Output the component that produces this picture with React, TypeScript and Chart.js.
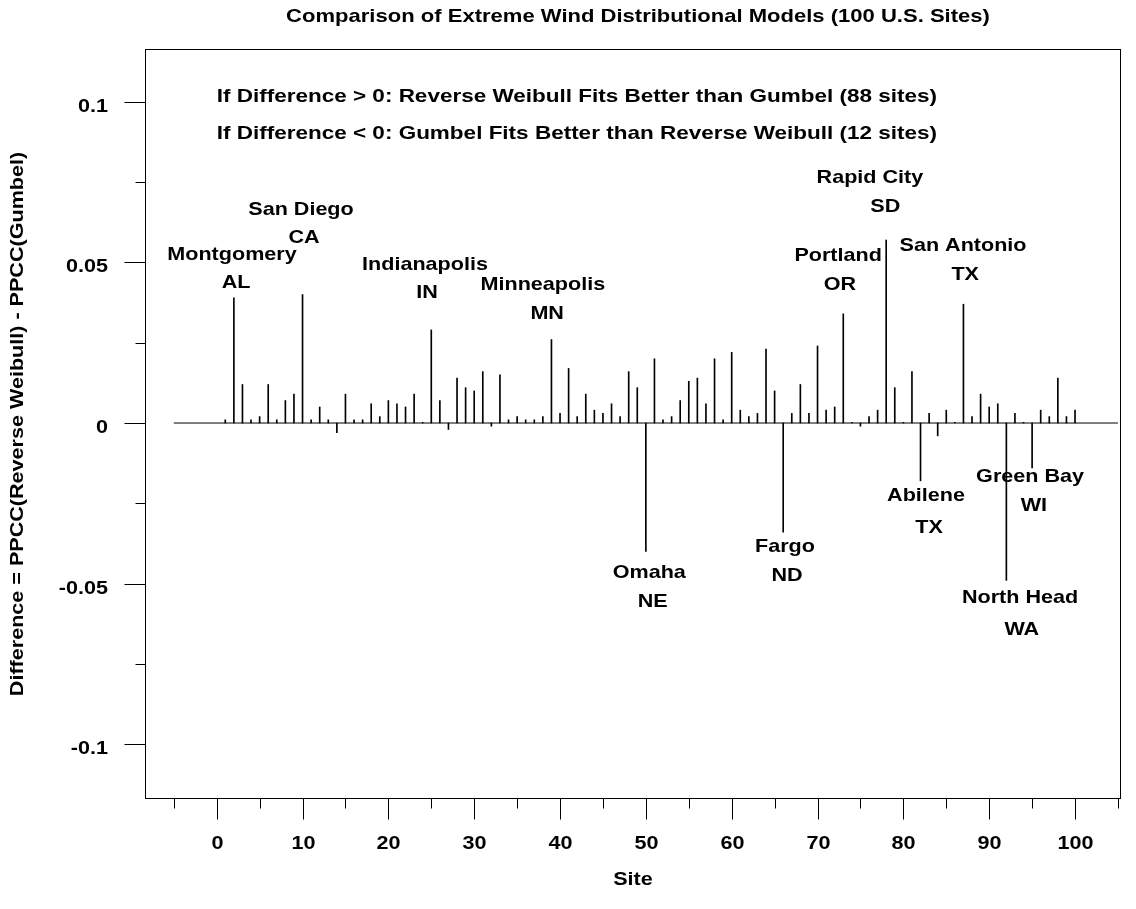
import React, { useEffect, useRef } from 'react';
import { Chart, registerables } from 'chart.js';

Chart.register(...registerables);

// PPCC(Reverse Weibull) - PPCC(Gumbel) for sites 1..100
const ppccDifference = [
  0.001, 0.039, 0.012, 0.001, 0.002, 0.012, 0.001, 0.007, 0.009, 0.040,
  0.001, 0.005, 0.001, -0.003, 0.009, 0.001, 0.001, 0.006, 0.002, 0.007,
  0.006, 0.005, 0.009, 0.0002, 0.029, 0.007, -0.002, 0.014, 0.011, 0.010,
  0.016, -0.001, 0.015, 0.001, 0.002, 0.001, 0.001, 0.002, 0.026, 0.003,
  0.017, 0.002, 0.009, 0.004, 0.003, 0.006, 0.002, 0.016, 0.011, -0.040,
  0.020, 0.001, 0.002, 0.007, 0.013, 0.014, 0.006, 0.020, 0.001, 0.022,
  0.004, 0.002, 0.003, 0.023, 0.010, -0.034, 0.003, 0.012, 0.003, 0.024,
  0.004, 0.005, 0.034, 0.0002, -0.001, 0.002, 0.004, 0.057, 0.011, 0.0002,
  0.016, -0.018, 0.003, -0.004, 0.004, 0.0002, 0.037, 0.002, 0.009, 0.005,
  0.006, -0.049, 0.003, 0.0002, -0.014, 0.004, 0.002, 0.014, 0.002, 0.004,
];

// reference line at zero difference
const zeroLineX = [-5, 105];

// axis ticks
const xTickValues = [-5, 0, 5, 10, 15, 20, 25, 30, 35, 40, 45, 50, 55, 60, 65, 70, 75, 80, 85, 90, 95, 100, 105];
const xTickLabels = ['', '0', '', '10', '', '20', '', '30', '', '40', '', '50', '', '60', '', '70', '', '80', '', '90', '', '100', ''];
const yTickValues = [-0.1, -0.075, -0.05, -0.025, 0, 0.025, 0.05, 0.075, 0.1];
const yTickLabels = ['-0.1', '', '-0.05', '', '0', '', '0.05', '', '0.1'];

// annotated sites
const cityNames = ['Montgomery', 'San Diego', 'Indianapolis', 'Minneapolis', 'Omaha', 'Fargo', 'Portland', 'Rapid City', 'San Antonio', 'Abilene', 'Green Bay', 'North Head'];
const cityStates = ['AL', 'CA', 'IN', 'MN', 'NE', 'ND', 'OR', 'SD', 'TX', 'TX', 'WI', 'WA'];
const cityNameX = [1.78, 9.82, 24.27, 38.0, 50.4, 66.2, 72.4, 76.1, 86.95, 82.64, 94.76, 93.6];
const cityNameY = [0.0523, 0.0663, 0.0492, 0.043, -0.0468, -0.0387, 0.052, 0.0763, 0.0551, -0.0228, -0.0168, -0.0545];
const cityStateX = [2.25, 10.17, 24.5, 38.5, 50.8, 66.44, 72.6, 77.9, 87.2, 82.99, 95.2, 93.8];
const cityStateY = [0.0436, 0.0576, 0.0405, 0.0339, -0.0558, -0.0477, 0.043, 0.0672, 0.0461, -0.0327, -0.0259, -0.0645];

const notes = [
  'If Difference > 0: Reverse Weibull Fits Better than Gumbel (88 sites)',
  'If Difference < 0: Gumbel Fits Better than Reverse Weibull (12 sites)',
];
const noteX = [0, 0];
const noteY = [0.1015, 0.09];

const chartTitle = 'Comparison of Extreme Wind Distributional Models (100 U.S. Sites)';
const xTitle = 'Site';
const yTitle = 'Difference = PPCC(Reverse Weibull) - PPCC(Gumbel)';

const FONT = 'bold 18.6px "Liberation Sans", Arial, sans-serif';
const STRETCH = 1.16;
const NOTE_STRETCH = 1.21;
const TITLE_STRETCH = 1.185;

function drawText(
  ctx: CanvasRenderingContext2D,
  text: string,
  x: number,
  y: number,
  align: CanvasTextAlign,
  rotate = false,
  stretch = STRETCH,
) {
  ctx.save();
  ctx.translate(x, y);
  if (rotate) ctx.rotate(-Math.PI / 2);
  ctx.scale(stretch, 1);
  ctx.font = FONT;
  ctx.fillStyle = '#000';
  ctx.textAlign = align;
  ctx.textBaseline = 'middle';
  ctx.fillText(text, 0, 0);
  ctx.restore();
}

const decorPlugin = {
  id: 'decor',
  afterDraw(chart: any) {
    const { ctx, chartArea } = chart;
    const xs = chart.scales.x;
    const ys = chart.scales.y;
    const L = Math.round(chartArea.left) + 0.5;
    const R = Math.round(chartArea.right) + 0.5;
    const T = Math.round(chartArea.top) + 0.5;
    const B = Math.round(chartArea.bottom) + 0.5;
    ctx.save();
    ctx.strokeStyle = '#000';
    ctx.lineWidth = 1;
    ctx.strokeRect(L, T, R - L, B - T);

    // x ticks and labels
    xTickValues.forEach((v, i) => {
      const px = Math.round(xs.getPixelForValue(v)) + 0.5;
      const len = xTickLabels[i] ? 21 : 10;
      ctx.beginPath();
      ctx.moveTo(px, B);
      ctx.lineTo(px, B + len);
      ctx.stroke();
      if (xTickLabels[i]) drawText(ctx, xTickLabels[i], px, B + 45, 'center');
    });
    // y ticks and labels
    yTickValues.forEach((v, i) => {
      const py = Math.round(ys.getPixelForValue(v)) + 0.5;
      const len = yTickLabels[i] ? 21 : 10;
      ctx.beginPath();
      ctx.moveTo(L, py);
      ctx.lineTo(L - len, py);
      ctx.stroke();
      if (yTickLabels[i]) drawText(ctx, yTickLabels[i], 108, py + 4.5, 'right');
    });

    // titles
    drawText(ctx, chartTitle, (L + R) / 2 + 5, 17, 'center', false, TITLE_STRETCH);
    drawText(ctx, xTitle, (L + R) / 2, 880, 'center');
    drawText(ctx, yTitle, 18, (T + B) / 2, 'center', true);

    // notes
    notes.forEach((t, i) =>
      drawText(ctx, t, xs.getPixelForValue(noteX[i]), ys.getPixelForValue(noteY[i]), 'left', false, NOTE_STRETCH),
    );

    // site annotations
    cityNames.forEach((name, i) => {
      drawText(ctx, name, xs.getPixelForValue(cityNameX[i]), ys.getPixelForValue(cityNameY[i]), 'center');
      drawText(ctx, cityStates[i], xs.getPixelForValue(cityStateX[i]), ys.getPixelForValue(cityStateY[i]), 'center');
    });
    ctx.restore();
  },
};

export default function App() {
  const canvasRef = useRef<HTMLCanvasElement | null>(null);

  useEffect(() => {
    const canvas = canvasRef.current;
    if (!canvas) return;
    const chart = new Chart(canvas, {
      type: 'bar',
      data: {
        datasets: [
          {
            type: 'bar',
            data: ppccDifference.map((v, i) => ({ x: i + 1, y: v })),
            backgroundColor: '#000',
            borderWidth: 0,
            barThickness: 1,
          } as any,
          {
            type: 'line',
            data: zeroLineX.map((x) => ({ x, y: 0 })),
            borderColor: '#000',
            borderWidth: 1,
            pointRadius: 0,
          } as any,
        ],
      },
      options: {
        responsive: false,
        animation: false,
        devicePixelRatio: 1,
        layout: { padding: { left: 0, top: 49, right: 16, bottom: 0 } },
        plugins: {
          legend: { display: false },
          tooltip: { enabled: false },
          title: { display: false },
        },
        scales: {
          x: {
            type: 'linear',
            min: -8.354,
            max: 105.24,
            offset: false,
            grid: { display: false },
            border: { display: false },
            ticks: { display: false },
            afterFit: (s: any) => { s.height = 111; },
          },
          y: {
            type: 'linear',
            min: -0.1168,
            max: 0.1165,
            grid: { display: false },
            border: { display: false },
            ticks: { display: false },
            afterFit: (s: any) => { s.width = 145; },
          },
        },
      } as any,
      plugins: [decorPlugin],
    });
    return () => chart.destroy();
  }, []);

  return (
    <div style={{ position: 'absolute', left: 0, top: 0, width: 1136, height: 909, background: '#fff' }}>
      <canvas ref={canvasRef} width={1136} height={909} />
    </div>
  );
}
